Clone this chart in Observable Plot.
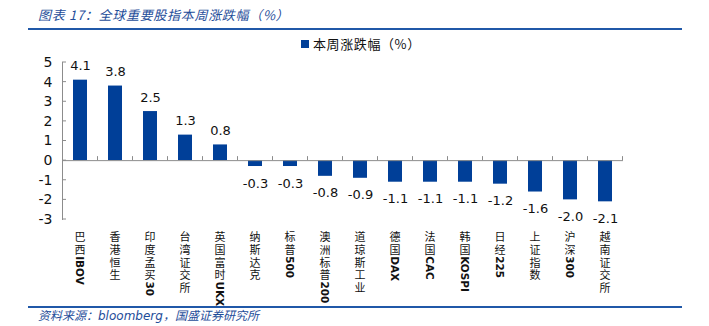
<!DOCTYPE html>
<html><head><meta charset="utf-8">
<script src="https://cdn.jsdelivr.net/npm/d3@7"></script>
<script src="https://cdn.jsdelivr.net/npm/@observablehq/plot@0.6"></script>
<style>
body{margin:0;background:#fff;}
#wrap{position:relative;width:709px;height:326px;overflow:hidden;font-family:"DejaVu Sans","Noto Sans CJK SC",sans-serif;}
#title{position:absolute;left:38px;top:5px;font-size:13px;letter-spacing:0.7px;font-style:italic;color:#1f4e9a;font-family:"Noto Sans CJK SC",sans-serif;white-space:nowrap;}
.hr{position:absolute;left:28px;width:654px;height:2px;background:#2058a8;}
#legend{position:absolute;left:301px;top:34px;font-size:13px;letter-spacing:0.6px;color:#111;font-family:"Noto Sans CJK SC",sans-serif;white-space:nowrap;}
#legend span{display:inline-block;width:8px;height:8px;background:#003f98;margin-right:4px;vertical-align:1px;}
#source{position:absolute;left:38px;top:306px;font-size:12px;font-style:italic;color:#1f4e9a;font-family:"DejaVu Sans","Noto Sans CJK SC",sans-serif;white-space:nowrap;}
#chart{position:absolute;left:0;top:0;}
</style></head>
<body>
<div id="wrap">
  <div id="chart"></div>
  <div id="title">图表 17：全球重要股指本周涨跌幅（%）</div>
  <div class="hr" style="top:28px"></div>
  <div id="legend"><span></span>本周涨跌幅（%）</div>
  <div class="hr" style="top:306px"></div>
  <div id="source">资料来源：bloomberg，国盛证券研究所</div>
</div>
<script>
const categories = ["巴西IBOV","香港恒生","印度孟买30","台湾证交所","英国富时UKX","纳斯达克","标普500","澳洲标普200","道琼斯工业","德国DAX","法国CAC","韩国KOSPI","日经225","上证指数","沪深300","越南证交所"];
const values = [4.1,3.8,2.5,1.3,0.8,-0.3,-0.3,-0.8,-0.9,-1.1,-1.1,-1.1,-1.2,-1.6,-2.0,-2.1];
const yTicks = [-3,-2,-1,0,1,2,3,4,5];

const data = categories.map((c,i)=>({cat:c, v:values[i]}));
const barColor = "#003f98";
const axisColor = "#8c8c8c";

const plot = Plot.plot({
  width: 709, height: 326,
  marginLeft: 62, marginRight: 86, marginTop: 62, marginBottom: 107,
  style: {fontFamily: '"DejaVu Sans","Noto Sans CJK SC",sans-serif', fontSize: "13px", color: "#111", background: "transparent"},
  x: {domain: categories, paddingInner: 0.6, paddingOuter: 0.3, axis: null},
  y: {domain: [-3, 5]},
  marks: [
    Plot.barY(data, {x: "cat", y: "v", fill: barColor}),
    Plot.ruleY([0], {stroke: axisColor}),
    Plot.frame({anchor: "left", stroke: axisColor}),
    Plot.axisY({ticks: yTicks, tickSize: 0, tickPadding: 10, tickFormat: d=>String(d), label: null, fontSize: 14}),
    Plot.text(data.filter(d=>d.v>=0), {x: "cat", y: "v", text: d=>d.v.toFixed(1), dy: -14, fontSize: 13}),
    Plot.text(data.filter(d=>d.v<0), {x: "cat", y: "v", text: d=>d.v.toFixed(1), dy: 17, fontSize: 13})
  ]
});
document.getElementById("chart").appendChild(plot);

const svg = d3.select(plot);
const xs = plot.scale("x"), ys = plot.scale("y");
const step = xs.step !== undefined ? xs.step : xs.bandwidth / (1 - 0.6);
const y0 = ys.apply(0);
const g = svg.append("g").attr("stroke", axisColor).attr("fill", "none");
const bounds = [xs.apply(categories[0]) + xs.bandwidth/2 - step/2, ...categories.map(c => xs.apply(c) + xs.bandwidth/2 + step/2)];
bounds.forEach(b => g.append("line").attr("x1", b).attr("x2", b).attr("y1", y0).attr("y2", y0 - 4));
const x0 = xs.range[0];
yTicks.forEach(t => g.append("line").attr("x1", x0).attr("x2", x0 + 4).attr("y1", ys.apply(t)).attr("y2", ys.apply(t)));

// vertical category labels: CJK upright (one text with tspans), Latin rotated
const lg = svg.append("g").attr("fill", "#111");
const yStart = Math.max(...ys.range) + 11;
const charStep = 12.6;
categories.forEach(c => {
  const cx = xs.apply(c) + xs.bandwidth/2;
  const cjk = (c.match(/[\u3400-\u9fff]/g) || []);
  const latin = c.replace(/[\u3400-\u9fff]/g, "");
  const t = lg.append("text").attr("text-anchor", "middle").attr("dominant-baseline", "central")
    .attr("font-family", '"Noto Sans CJK SC",sans-serif').attr("font-size", 11);
  cjk.forEach((ch, i) => {
    t.append("tspan").attr("x", cx).attr("y", yStart + charStep * i + charStep / 2).text(ch);
  });
  if (latin) {
    lg.append("text").attr("transform", `translate(${cx},${yStart + charStep * cjk.length + 1}) rotate(90)`)
      .attr("text-anchor", "start").attr("dominant-baseline", "central")
      .attr("font-family", '"DejaVu Sans",sans-serif').attr("font-weight", "bold").attr("font-size", 10.5).text(latin);
  }
});
</script>
</body></html>
